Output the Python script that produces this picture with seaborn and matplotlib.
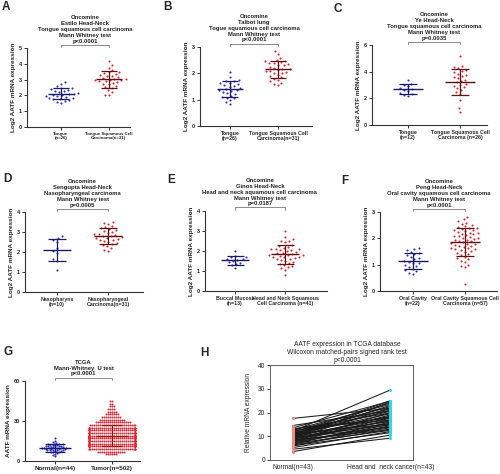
import warnings
import numpy as np
import pandas as pd
import seaborn as sns
from matplotlib import pyplot as plt
from matplotlib import transforms

warnings.filterwarnings('ignore')

# ---- data ----
a_normal = [1.52, 1.58, 1.65, 1.70, 1.75, 1.78, 1.82, 1.86, 1.90, 1.95, 1.98, 2.02, 2.05,
            2.08, 2.12, 2.15, 2.20, 2.25, 2.30, 2.35, 2.40, 2.45, 2.50, 2.60, 2.72, 2.85]
a_tumor = [2.0, 2.05, 2.2, 2.35, 2.5, 2.55, 2.6, 2.7, 2.75, 2.8, 2.85, 2.9, 2.92, 2.95, 2.98, 3.0,
           3.02, 3.05, 3.1, 3.15, 3.2, 3.25, 3.3, 3.35, 3.4, 3.45, 3.5, 3.6, 3.75, 3.95, 4.2]

b_normal = [0.82, 0.9, 0.98, 1.05, 1.08, 1.12, 1.15, 1.2, 1.25, 1.28, 1.32, 1.35, 1.38,
            1.4, 1.45, 1.48, 1.52, 1.55, 1.6, 1.62, 1.65, 1.7, 1.72, 1.75, 1.85, 2.05]
b_tumor = [1.55, 1.6, 1.65, 1.7, 1.75, 1.8, 1.85, 1.9, 1.95, 2.0, 2.02, 2.05, 2.08, 2.1, 2.12, 2.15,
           2.18, 2.2, 2.25, 2.3, 2.32, 2.35, 2.38, 2.4, 2.42, 2.45, 2.48, 2.5, 2.6, 2.75, 2.85]

c_normal = [2.2, 2.25, 2.3, 2.4, 2.55, 2.6, 2.7, 2.8, 2.9, 3.0, 3.1, 3.35]
c_tumor = [1.0, 1.3, 1.85, 2.3, 2.45, 2.6, 2.75, 2.85, 2.95, 3.0, 3.1, 3.2, 3.3, 3.4, 3.5, 3.6,
           3.65, 3.75, 3.85, 3.95, 4.05, 4.15, 4.25, 4.35, 4.45, 5.2]

d_normal = [1.12, 1.55, 1.65, 1.95, 2.05, 2.2, 2.5, 2.62, 2.7, 2.78]
d_tumor = [2.05, 2.1, 2.2, 2.3, 2.35, 2.4, 2.45, 2.5, 2.55, 2.6, 2.62, 2.65, 2.7, 2.72, 2.75, 2.78,
           2.8, 2.85, 2.88, 2.9, 2.95, 3.0, 3.05, 3.1, 3.15, 3.2, 3.25, 3.3, 3.4, 3.45, 3.5]

e_normal = [1.15, 1.28, 1.35, 1.4, 1.45, 1.5, 1.55, 1.58, 1.62, 1.68, 1.72, 1.75, 2.0]
e_tumor = [0.8, 1.05, 1.15, 1.2, 1.25, 1.3, 1.35, 1.4, 1.45, 1.5, 1.55, 1.58, 1.6, 1.65, 1.68,
           1.7, 1.72, 1.75, 1.78, 1.8, 1.82, 1.85, 1.88, 1.9, 1.95, 2.0, 2.05, 2.1, 2.12, 2.15,
           2.2, 2.25, 2.3, 2.05, 2.1, 2.5, 2.45, 2.5, 2.6, 2.7, 3.0]

f_normal = [0.65, 0.7, 0.75, 0.8, 0.85, 0.9, 0.95, 1.0, 1.05, 1.08, 1.12, 1.15, 1.2, 1.25,
            1.3, 1.35, 1.4, 1.45, 1.5, 1.55, 1.6, 1.65]
f_tumor = [0.25, 0.9, 0.95, 1.0, 1.1, 1.15, 1.2, 1.25, 1.3, 1.35, 1.4, 1.45, 1.5, 1.52, 1.55,
           1.58, 1.6, 1.62, 1.65, 1.68, 1.7, 1.72, 1.75, 1.78, 1.8, 1.82, 1.85, 1.88, 1.9, 1.92,
           1.95, 1.98, 2.0, 2.02, 2.05, 2.08, 2.1, 2.12, 2.15, 2.18, 2.2, 2.22, 2.25, 2.28, 2.3,
           2.32, 2.35, 2.38, 2.4, 2.42, 2.45, 2.5, 2.55, 2.6, 2.65, 2.72, 2.8]

g_normal = [3.5, 4.5, 5.5, 6, 6.5, 7, 7, 7.5, 7.5, 8, 8, 8, 8.5, 8.5, 9, 9, 9, 9, 9.5, 9.5,
            9.5, 10, 10, 10, 10, 10.5, 10.5, 10.5, 11, 11, 11, 11.5, 11.5, 12, 12, 12, 12.5,
            12.5, 13, 13, 13.5, 14, 15, 17.5]
# TCGA tumour values (n=502), as value levels and how many samples sit at each
g_tumor_levels = [5, 7, 9, 11, 13, 15, 17, 19, 21, 23, 25, 27, 29, 31, 33, 35, 37, 39, 41, 43, 45]
g_tumor_counts = [6, 14, 28, 42, 52, 56, 55, 50, 44, 37, 30, 24, 18, 13, 10, 7, 5, 4, 3, 2, 2]
g_tumor = list(np.repeat(g_tumor_levels, g_tumor_counts).astype(float))

h_normal = [3.5, 4.5, 5.2, 5.8, 6.0, 6.3, 6.6, 6.9, 7.1, 7.4, 7.6, 7.8, 8.0, 8.2, 8.4, 8.6,
            8.8, 9.0, 9.1, 9.3, 9.5, 9.6, 9.8, 10.0, 10.1, 10.3, 10.5, 10.6, 10.8, 11.0, 11.1,
            11.3, 11.5, 11.7, 11.9, 12.1, 12.3, 12.6, 12.9, 13.2, 13.5, 14.5, 17.5]
h_cancer = [10.5, 9.2, 12.0, 14.5, 11.5, 13.0, 16.0, 12.5, 15.0, 18.0, 13.5, 20.0, 14.0, 17.0,
            12.8, 19.0, 15.5, 22.0, 16.5, 13.8, 24.5, 18.5, 14.8, 21.0, 17.5, 23.0, 16.2, 25.0,
            19.5, 15.2, 22.5, 20.5, 18.2, 24.0, 21.5, 29.5, 17.8, 23.5, 19.8, 16.8, 24.8, 20.8, 21.8]

BLUE = '#2a2ad2'
RED = '#e3242f'
DARK_B = '#1a1a60'
DARK_R = '#5a1414'

sns.set_style('ticks')
plt.rcParams['font.family'] = ['Liberation Sans', 'DejaVu Sans']

fig = plt.figure(figsize=(5, 4.74), dpi=100)


def px_axes(x0, y0, x1, y1):
    return fig.add_axes([x0 / 500, 1 - y1 / 474, (x1 - x0) / 500, (y1 - y0) / 474])


def dot_panel(box, normal, tumor, labels, title, yticks, ylabel='Log2 AATF mRNA expression',
              sizes=(3.0, 3.0), markers=('.', '.'), mean_cols=(DARK_B, DARK_R), xfs=3.8):
    x0, y0, x1, y1, g0, g1 = box
    ax = px_axes(x0, y0, x1, y1)
    groups = [('N', normal, BLUE), ('T', tumor, RED)]
    df = pd.DataFrame({'grp': ['N'] * len(normal) + ['T'] * len(tumor),
                       'val': list(normal) + list(tumor)})
    # one swarm call per group so each can use its own marker size
    for (g, vals, col), sz, mk in zip(groups, sizes, markers):
        sns.swarmplot(data=df[df.grp == g], x='grp', y='val', order=['N', 'T'], color=col,
                      size=sz, marker=mk, linewidth=0, ax=ax)
    for i, vals, col in [(0, normal, mean_cols[0]), (1, tumor, mean_cols[1])]:
        m = np.mean(vals)
        s = np.std(vals, ddof=1)
        ax.hlines(m, i - 0.28, i + 0.28, color=col, lw=1.0, zorder=5)
        ax.vlines(i, m - s, m + s, color=col, lw=0.9, zorder=5)
        ax.hlines([m - s, m + s], i - 0.17, i + 0.17, color=col, lw=0.9, zorder=5)
    u = g1 - g0
    ax.set_xlim((x0 - g0) / u, (x1 - g0) / u)
    ax.set_ylim(yticks[0], yticks[-1])
    ax.set_yticks(yticks)
    ax.set_yticklabels([str(t) for t in yticks], fontsize=4, fontweight='bold')
    ax.set_xticks([0, 1])
    ax.set_xticklabels(labels, fontsize=xfs, fontweight='bold', linespacing=1.1)
    ax.set_xlabel('')
    ax.set_ylabel(ylabel, fontsize=4.6, fontweight='bold', labelpad=2)
    ax.tick_params(length=2, width=0.7, pad=1.5, color='#333333')
    sns.despine(ax=ax)
    for sp in ('left', 'bottom'):
        ax.spines[sp].set_linewidth(0.8)
        ax.spines[sp].set_color('#333333')
    tr = transforms.blended_transform_factory(ax.transData, ax.transAxes)
    hpx = y1 - y0
    yb = 1 + 3.5 / hpx
    yt = yb - 2.5 / hpx
    ax.plot([0, 0, 1, 1], [yt, yb, yb, yt], color='#777777', lw=0.6, transform=tr, clip_on=False)
    ax.text(0.5, yb + 1.0 / hpx, title, transform=tr, ha='center', va='bottom',
            fontsize=4.2, fontweight='bold', linespacing=1.2, color='#222222')
    return ax


dot_panel((27, 48, 130, 127, 61, 109), a_normal, a_tumor,
          ['Tongue\n(n=26)', 'Tongue Squamous Cell\nCarcinoma(n=31)'],
          'Oncomine\nEstilo Head-Neck\nTongue squamous cell carcinoma\nMann Whitney test\np<0.0001',
          [0, 1, 2, 3, 4, 5], xfs=3.2)
dot_panel((200, 47, 312, 126, 230, 278), b_normal, b_tumor,
          ['Tongue\n(n=26)', 'Tongue Squamous Cell\nCarcinoma(n=31)'],
          'Oncomine\nTalbot lung\nTogue squamous cell carcinoma\nMann Whitney test\np<0.0001',
          [0, 1, 2, 3])
dot_panel((372, 45, 487, 125, 408, 460), c_normal, c_tumor,
          ['Tongue\n(n=12)', 'Tongue Squamous Cell\nCarcinoma (n=26)'],
          'Oncomine\nYe Head-Neck\nTongue squamous cell carcinoma\nMann Whitney test\np=0.0035',
          [0, 2, 4, 6])
dot_panel((25, 212, 143, 292, 57, 108), d_normal, d_tumor,
          ['Nasopharynx\n(n=10)', 'Nasopharyngeal\nCarcinoma(n=31)'],
          'Oncomine\nSengupta Head-Neck\nNasopharyngeal carcinoma\nMann Whitney test\np=0.0005',
          [0, 1, 2, 3, 4])
dot_panel((205, 211, 327, 291, 235, 285), e_normal, e_tumor,
          ['Buccal Mucosa\n(n=13)', 'Head and Neck Squamous\nCell Carcinoma (n=41)'],
          'Oncomine\nGinos Head-Neck\nHead and neck aquamous cell carcinoma\nMann Whitney test\np=0.0187',
          [0, 1, 2, 3, 4])
dot_panel((380, 212, 497, 291, 413, 465), f_normal, f_tumor,
          ['Oral Cavity\n(n=22)', 'Oral Cavity Squamous Cell\nCarcinoma (n=57)'],
          'Oncomine\nPeng Head-Neck\nOral cavity squamous cell carcinoma\nMann Whitney test\np<0.0001',
          [0, 1, 2, 3])
dot_panel((25, 381, 140, 461, 55, 112), g_normal, g_tumor,
          ['Normal(n=44)', 'Tumor(n=502)'],
          'TCGA\nMann-Whitney  U test\np<0.0001',
          [0, 30, 60], ylabel='AATF mRNA expression', sizes=(1.5, 1.4), markers=('o', 'o'),
          mean_cols=(DARK_B, '#a01010'), xfs=4.6)

# ---- panel H: paired lines ----
axh = px_axes(270, 365, 413, 460)
n_pairs = len(h_normal)
hdf = pd.DataFrame({'pair': list(range(n_pairs)) * 2,
                    'pos': [0] * n_pairs + [1] * n_pairs,
                    'val': h_normal + h_cancer})
sns.lineplot(data=hdf, x='pos', y='val', units='pair', estimator=None,
             color='#1a1a1a', lw=0.75, ax=axh, legend=False)
sns.scatterplot(x=[0] * n_pairs, y=h_normal, color='#f08a80', s=5, linewidth=0, ax=axh, zorder=4)
sns.scatterplot(x=[1] * n_pairs, y=h_cancer, color='#2fd8e8', s=5, linewidth=0, ax=axh, zorder=4)
axh.set_xlim(-0.23, 1.23)
axh.set_ylim(0, 40)
axh.set_yticks([0, 10, 20, 30, 40])
axh.set_yticklabels(['0', '10', '20', '30', '40'], fontsize=4.8)
axh.set_xticks([0, 1])
axh.set_xticklabels(['Normal(n=43)', 'Head and  neck cancer(n=43)'], fontsize=4.8)
axh.set_xlabel('')
axh.set_ylabel('Relative mRNA expression', fontsize=4.8, labelpad=4)
axh.tick_params(axis='y', length=2, width=0.6, pad=1.5)
axh.tick_params(axis='x', length=0, pad=3)
for sp in axh.spines.values():
    sp.set_linewidth(0.6)
    sp.set_color('#444444')
axh.set_title('AATF expression in TCGA database\nWilcoxon matched-pairs signed rank test\np<0.0001',
              fontsize=4.8, linespacing=1.2, pad=2, x=0.54)

# ---- panel letters ----
for letter, (lx, ly) in {'A': (2, 1), 'B': (163, 1), 'C': (334, 3), 'D': (3, 173),
                         'E': (167, 174), 'F': (341, 175), 'G': (3, 346), 'H': (200, 347)}.items():
    fig.text(lx / 500, 1 - ly / 474, letter, fontsize=8.5, fontweight='bold', va='top', ha='left')

fig.savefig('out.png', dpi=100)
